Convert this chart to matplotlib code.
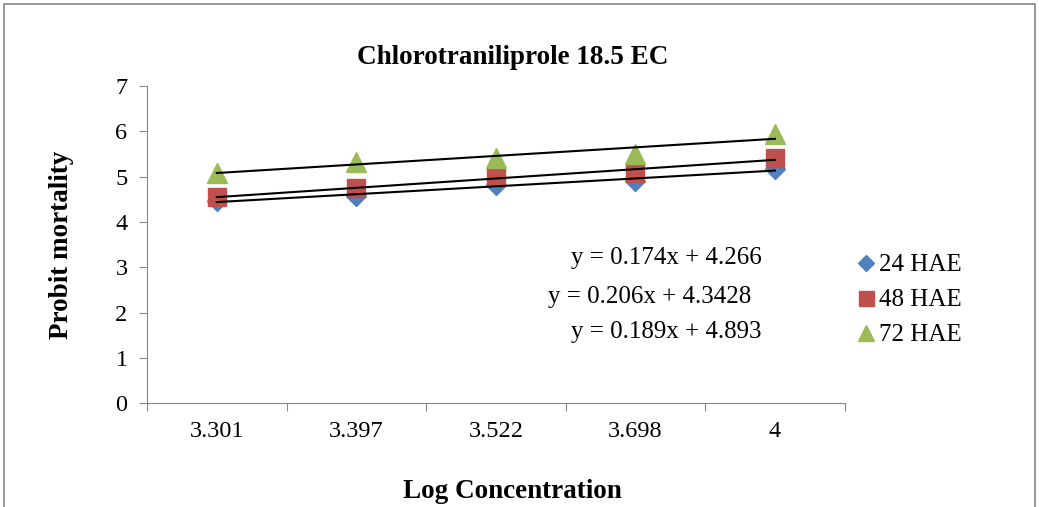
import matplotlib.pyplot as plt
import numpy as np
from matplotlib.patches import Rectangle

plt.rcParams['font.family'] = ['Liberation Serif', 'DejaVu Serif']

# data
conc_labels = ['3.301', '3.397', '3.522', '3.698', '4']
hae24 = [4.46, 4.57, 4.82, 4.90, 5.17]
hae48 = [4.56, 4.75, 5.00, 5.08, 5.42]
hae72 = [5.08, 5.32, 5.41, 5.50, 5.94]
series_names = ['24 HAE', '48 HAE', '72 HAE']
slopes = [0.174, 0.206, 0.189]
intercepts = [4.266, 4.3428, 4.893]
eq_texts = ['y = 0.174x + 4.266', 'y = 0.206x + 4.3428', 'y = 0.189x + 4.893']

colors = ['#4F81BD', '#C0504D', '#9BBB59']
markers = ['D', 's', '^']
msizes = [10, 13.5, 14]

fig = plt.figure(figsize=(10.39, 5.07), dpi=100)
ax = fig.add_axes([0.1415, 0.205, 0.6715, 0.625])

x = np.arange(1, len(conc_labels) + 1)
for vals, c, m, ms, name in zip([hae24, hae48, hae72], colors, markers, msizes, series_names):
    ax.plot(x, vals, linestyle='none', marker=m, color=c, markersize=ms, label=name, zorder=3)

# trendlines as shown in the chart
for s, b in zip(slopes, intercepts):
    ax.plot(x, s * x + b, color='black', linewidth=1.5, zorder=4)

ax.set_xlim(0.5, 5.5)
ax.set_ylim(0, 7)
ax.set_yticks(range(0, 8))
ax.set_xticks(np.arange(0.5, 6.0, 1.0))
ax.set_xticklabels([])
ax.set_xticks(x, minor=True)
ax.set_xticklabels(conc_labels, minor=True)
ax.tick_params(axis='x', which='minor', length=0, pad=13, labelsize=17.5)
ax.tick_params(axis='x', which='major', length=6, color='#868686')
ax.tick_params(axis='y', length=6, color='#868686', labelsize=17.5, pad=8)
for sp in ['top', 'right']:
    ax.spines[sp].set_visible(False)
for sp in ['left', 'bottom']:
    ax.spines[sp].set_color('#868686')

fig.text(0.493, 0.887, 'Chlorotraniliprole 18.5 EC', fontsize=19.5, fontweight='bold',
         ha='center', va='center')
ax.set_ylabel('Probit mortality', fontsize=19.5, fontweight='bold', labelpad=30)
ax.set_xlabel('Log Concentration', fontsize=19.5, fontweight='bold')
ax.xaxis.set_label_coords(0.524, -0.278)
ax.xaxis.label.set_va('center')

# equation labels
fig.text(0.641, 0.491, eq_texts[0], fontsize=18, ha='center', va='center')
fig.text(0.6256, 0.414, eq_texts[1], fontsize=18, ha='center', va='center')
fig.text(0.641, 0.345, eq_texts[2], fontsize=18, ha='center', va='center')

fig.legend(loc='center left', bbox_to_anchor=(0.80, 0.408), frameon=False,
           fontsize=18, handletextpad=0.0, labelspacing=0.5, handlelength=1.0,
           markerscale=0.8)

fig.add_artist(Rectangle((0.004, -0.02), 0.992, 1.013, transform=fig.transFigure,
                         fill=False, edgecolor='#868686', linewidth=1.2))

fig.savefig('out.png', dpi=100)
